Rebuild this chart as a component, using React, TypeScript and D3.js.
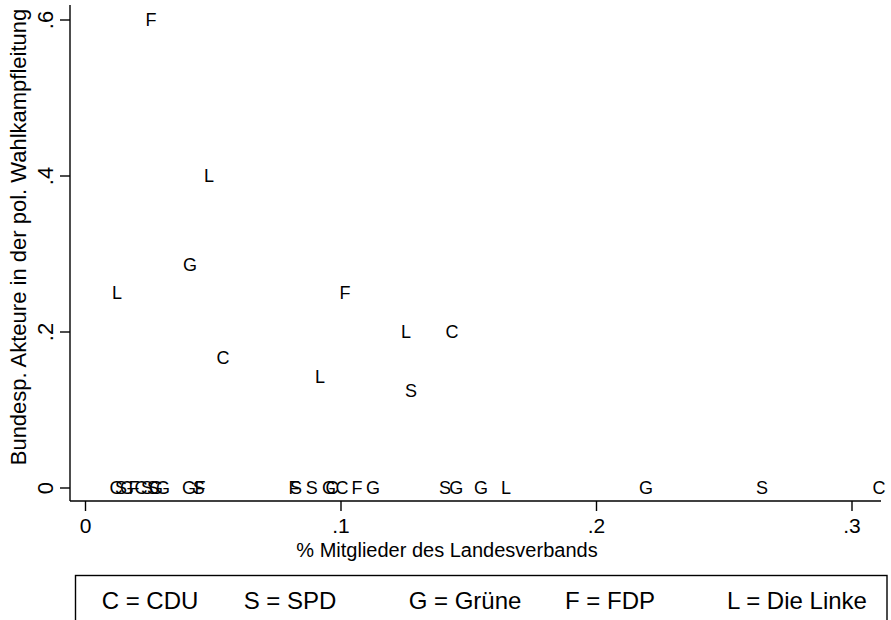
import React from "react";
import * as d3 from "d3";

const partyCodes = [
  "F", "L", "G", "L", "F", "L", "C", "C", "L", "S",
  "C", "S", "G", "F", "C", "S", "S", "G", "G", "G", "S", "F",
  "F", "S", "S", "G", "C", "C", "F", "G",
  "S", "G", "G", "L", "G", "S", "C",
];
const memberShare = [
  0.0256, 0.0483, 0.0409, 0.0123, 0.1016, 0.1254, 0.1434, 0.0538, 0.0918, 0.1274,
  0.0119, 0.0139, 0.0162, 0.019, 0.0217, 0.0241, 0.0264, 0.0276, 0.0303, 0.0405, 0.0443, 0.0448,
  0.0816, 0.0824, 0.0886, 0.0953, 0.0965, 0.1004, 0.1063, 0.1125,
  0.1407, 0.1451, 0.1548, 0.1646, 0.2194, 0.2648, 0.3106,
];
const federalShare = [
  0.6, 0.4, 0.2857, 0.25, 0.25, 0.2, 0.2, 0.1667, 0.1429, 0.125,
  0, 0, 0, 0, 0, 0, 0, 0, 0, 0, 0, 0,
  0, 0, 0, 0, 0, 0, 0, 0,
  0, 0, 0, 0, 0, 0, 0,
];
const xTicks = [0, 0.1, 0.2, 0.3];
const yTicks = [0, 0.2, 0.4, 0.6];
const legendItems = ["C = CDU", "S = SPD", "G = Grüne", "F = FDP", "L = Die Linke"];
const xTitle = "% Mitglieder des Landesverbands";
const yTitle = "Bundesp. Akteure in der pol. Wahlkampfleitung";

const fmt = (v: number) => (v === 0 ? "0" : d3.format(".1f")(v).replace(/^0/, ""));

export default function App() {
  const W = 891, H = 620;
  const x = d3.scaleLinear().domain([0, 0.3]).range([85.5, 852]);
  const y = d3.scaleLinear().domain([0, 0.6]).range([488, 20]);
  const axX = 70, axY = 501, axTop = 5, axRight = 881;
  const font = "'Liberation Sans', Arial, Helvetica, sans-serif";
  const legendX = [150, 290, 465, 610, 797];
  return (
    <svg width={W} height={H} style={{ position: "absolute", left: 0, top: 0, background: "#fff" }} fontFamily={font}>
      <rect x={0} y={0} width={W} height={H} fill="#fff" />
      <line x1={axX} x2={axX} y1={axTop} y2={axY} stroke="#000" strokeWidth={1.4} />
      <line x1={axX} x2={axRight} y1={axY} y2={axY} stroke="#000" strokeWidth={1.4} />
      {yTicks.map((t) => (
        <g key={"y" + t}>
          <line x1={axX - 10} x2={axX} y1={y(t)} y2={y(t)} stroke="#000" strokeWidth={1.4} />
          <text
            transform={`translate(${axX - 17},${y(t)}) rotate(-90)`}
            textAnchor="middle"
            fontSize={22}
            fill="#000"
          >
            {fmt(t)}
          </text>
        </g>
      ))}
      {xTicks.map((t) => (
        <g key={"x" + t}>
          <line x1={x(t)} x2={x(t)} y1={axY} y2={axY + 10} stroke="#000" strokeWidth={1.4} />
          <text x={x(t)} y={axY + 32} textAnchor="middle" fontSize={21} fill="#000">
            {fmt(t)}
          </text>
        </g>
      ))}
      <text x={447} y={557} textAnchor="middle" fontSize={20} fill="#000">{xTitle}</text>
      <text transform={`translate(26,237) rotate(-90)`} textAnchor="middle" fontSize={22} fill="#000">{yTitle}</text>
      {partyCodes.map((c, i) => (
        <text
          key={i}
          x={x(memberShare[i])}
          y={y(federalShare[i])}
          textAnchor="middle"
          dominantBaseline="central"
          fontSize={18}
          fill="#000"
        >
          {c}
        </text>
      ))}
      <rect x={75.5} y={575.5} width={811.5} height={60} fill="#fff" stroke="#000" strokeWidth={1.4} />
      {legendItems.map((l, i) => (
        <text key={l} x={legendX[i]} y={609} textAnchor="middle" fontSize={24} fill="#000">{l}</text>
      ))}
    </svg>
  );
}
